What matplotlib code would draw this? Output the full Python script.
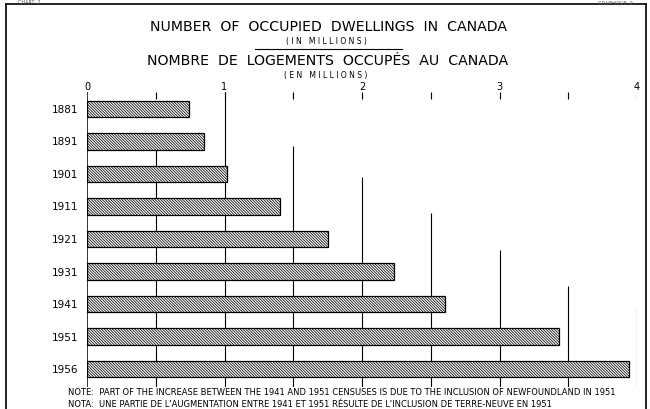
import matplotlib
matplotlib.use("Agg")
import matplotlib.pyplot as plt
from matplotlib.lines import Line2D

plt.rcParams['font.family'] = ['DejaVu Sans']
plt.rcParams['hatch.linewidth'] = 0.55

# data (millions of occupied dwellings)
years = ["1881", "1891", "1901", "1911", "1921", "1931", "1941", "1951", "1956"]
dwellings = [0.74, 0.85, 1.02, 1.40, 1.75, 2.23, 2.60, 3.43, 3.94]
tick_vals = [0, 1, 2, 3, 4]
tick_labels = ["0", "1", "2", "3", "4"]

# hand-drawn grid: x value and row where each line starts
grid_x = [0.5, 1.0, 1.5, 2.0, 2.5, 3.0, 3.5, 4.0]
grid_start = [1.25, -0.52, 1.15, 2.1, 3.2, 4.35, 5.45, 6.1]

W, H = 650, 410
fig = plt.figure(figsize=(6.5, 4.1), dpi=100)

def px(x, y):
    return x / W, 1 - y / H

# outer frame
fig.add_artist(Line2D([6 / W, 646 / W], [1 - 5 / H, 1 - 5 / H], color="black", lw=1.2))
fig.add_artist(Line2D([6 / W, 6 / W], [1 - 5 / H, 0], color="black", lw=1.2))
fig.add_artist(Line2D([646 / W, 646 / W], [1 - 5 / H, 0], color="black", lw=1.2))
fig.text(*px(18, 0.5), "CHART  2", fontsize=3.5, ha="left", va="top", color="#555")
fig.text(*px(633, 0.5), "GRAPHIQUE  2", fontsize=3.5, ha="right", va="top", color="#555")

# titles
fig.text(*px(328, 27), "NUMBER  OF  OCCUPIED  DWELLINGS  IN  CANADA",
         fontsize=10.2, ha="center", va="center")
fig.text(*px(326, 41.5), "( I N   M I L L I O N S )", fontsize=5.5, ha="center", va="center")
fig.add_artist(Line2D([255 / W, 402 / W], [1 - 50 / H, 1 - 50 / H], color="black", lw=0.8))
fig.text(*px(328, 61), "NOMBRE  DE  LOGEMENTS  OCCUPÉS  AU  CANADA",
         fontsize=10.2, ha="center", va="center")
fig.text(*px(326, 75.5), "( E N   M I L L I O N S )", fontsize=5.5, ha="center", va="center")

# axes area: x 87..637 px, y 93..388 px
ax = fig.add_axes([87 / W, 1 - 388 / H, 550 / W, 295 / H])
ax.set_xlim(0, 4)
ax.set_ylim(8.55, -0.52)
ax.set_axis_off()

rows = list(range(len(years)))

# grid lines (behind bars) and the short ticks at the top
ax.vlines(grid_x, grid_start, 8.55, color="black", lw=0.8, zorder=1)
ax.vlines(grid_x, -0.52, -0.3, color="black", lw=0.8, zorder=1)
ax.vlines([0], -0.52, 8.55, color="black", lw=1.1, zorder=4)

ax.barh(rows, dwellings, height=0.5, color="white", edgecolor="black",
        hatch="\\" * 12, lw=0.9, zorder=3)

for v, lab in zip(tick_vals, tick_labels):
    ax.text(v, -0.55, lab, ha="center", va="bottom", fontsize=7, clip_on=False)

for r, y in zip(rows, years):
    ax.text(-0.065, r, y, ha="right", va="center", fontsize=7.5)

# notes
fig.text(*px(68, 393), "NOTE:  PART OF THE INCREASE BETWEEN THE 1941 AND 1951 CENSUSES IS DUE TO THE INCLUSION OF NEWFOUNDLAND IN 1951",
         fontsize=6.0, ha="left", va="center")
fig.text(*px(68, 405), "NOTA:  UNE PARTIE DE L'AUGMENTATION ENTRE 1941 ET 1951 RÉSULTE DE L'INCLUSION DE TERRE-NEUVE EN 1951",
         fontsize=6.0, ha="left", va="center")

fig.savefig("out.png", dpi=100)
